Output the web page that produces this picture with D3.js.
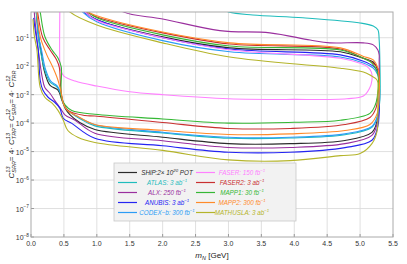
<!DOCTYPE html>
<html>
<head>
<meta charset="utf-8">
<script src="https://cdn.jsdelivr.net/npm/d3@7"></script>
<style>
body { margin: 0; background: #fff; }
svg { display: block; font-family: "Liberation Sans", Arial, sans-serif; }
</style>
</head>
<body>
<div id="chart"></div>
<script>
const WIDTH = 407;
const HEIGHT = 264;
const margin = {top: 12, right: 14, bottom: 27, left: 31};
const NB = "\u00a0";

// experiments, in legend order
const names = ["SHiP", "ATLAS", "ALX", "ANUBIS", "CODEX-b", "FASER", "FASER2", "MAPP1", "MAPP2", "MATHUSLA"];
const colors = ["#2b2b2b", "#1fbcbc", "#9a2f9e", "#2424f2", "#2b9cf5", "#ff80ff", "#c93030", "#35b835", "#ff8a2a", "#b4b42a"];
const legendLabels = [
  [{t: "SHiP:2× 10", sup: "20"}, {t: NB + "POT"}],
  [{t: "ATLAS: 3 ab", sup: "−1"}],
  [{t: "ALX: 250 fb", sup: "−1"}],
  [{t: "ANUBIS: 3 ab", sup: "−1"}],
  [{t: "CODEX−b: 300 fb", sup: "−1"}],
  [{t: "FASER: 150 fb", sup: "−1"}],
  [{t: "FASER2: 3 ab", sup: "−1"}],
  [{t: "MAPP1: 30 fb", sup: "−1"}],
  [{t: "MAPP2: 300 fb", sup: "−1"}],
  [{t: "MATHUSLA: 3 ab", sup: "−1"}]
];
const xTicks = [0, 0.5, 1, 1.5, 2, 2.5, 3, 3.5, 4, 4.5, 5, 5.5];
const yTicks = [1e-1, 1e-2, 1e-3, 1e-4, 1e-5, 1e-6, 1e-7, 1e-8];
const yExp = ["−1", "−2", "−3", "−4", "−5", "−6", "−7", "−8"];

// sensitivity contours [m_N (GeV), C], traced lower edge -> right edge -> upper edge
const ship = [[0.07,1.5],[0.08,0.81],[0.12,0.10],[0.15,3.7e-2],[0.20,7.2e-3],[0.29,2.1e-3],[0.41,1.45e-3],[0.47,6.3e-4],[0.52,3.3e-4],[0.59,2.0e-4],[0.74,1.05e-4],[0.97,6.0e-5],[2.0,3.2e-5],[3.0,1.9e-5],[3.94,1.9e-5],[4.77,2.45e-5],[5.18,4.7e-5],[5.26,1.26e-4],[5.29,6.3e-4],[5.29,3.2e-3],[5.27,7.2e-3],[5.2,1.4e-2],[5.05,1.9e-2],[4.70,3.2e-2],[3.02,4.4e-2],[2.0,0.107],[1.0,0.43],[0.82,0.81],[0.70,2.0]];
const atlas = [[0.07,1.5],[0.08,0.81],[0.11,0.10],[0.14,3.7e-2],[0.21,7.2e-3],[0.29,2.75e-3],[0.40,1.8e-3],[0.47,8.1e-4],[0.50,4.5e-4],[0.56,2.8e-4],[0.75,1.4e-4],[0.97,8.0e-5],[2.0,4.5e-5],[3.0,2.95e-5],[3.94,3.0e-5],[4.77,3.9e-5],[5.18,7.1e-5],[5.26,1.6e-4],[5.30,6.3e-4],[5.30,1.66e-2],[5.29,8.3e-2],[5.27,0.19],[5.2,0.257],[5.0,0.33],[4.13,0.5],[3.37,0.63],[3.0,0.81],[2.7,1.6]];
const alx = [[0.05,1.5],[0.05,0.81],[0.08,0.15],[0.11,3.7e-2],[0.17,4.1e-3],[0.21,1.8e-3],[0.29,1.1e-3],[0.36,6.3e-4],[0.44,3.5e-4],[0.52,1.9e-4],[0.67,1.26e-4],[0.97,4.4e-5],[2.0,2.4e-5],[3.0,1.4e-5],[3.94,1.4e-5],[4.77,1.9e-5],[5.18,3.7e-5],[5.26,1.0e-4],[5.29,3.2e-4],[5.29,1.66e-2],[5.29,2.5e-2],[5.27,3.7e-2],[5.2,5.6e-2],[5.05,6.6e-2],[4.54,6.6e-2],[4.24,8.3e-2],[3.63,0.148],[2.87,0.178],[2.0,0.457],[1.40,0.81],[1.2,2.0]];
const anubis = [[0.04,0.5],[0.07,0.15],[0.11,3.7e-2],[0.14,3.2e-3],[0.18,1.45e-3],[0.26,8.1e-4],[0.36,5.4e-4],[0.44,3.3e-4],[0.49,1.48e-4],[0.62,9.8e-5],[0.97,2.95e-5],[2.0,1.6e-5],[3.0,9.5e-6],[3.94,9.5e-6],[4.77,1.38e-5],[5.18,2.5e-5],[5.27,7.9e-5],[5.29,2.5e-4],[5.29,2.5e-3],[5.27,6.3e-3],[5.2,1.0e-2],[5.05,1.5e-2],[4.70,2.5e-2],[3.02,4.0e-2],[2.0,0.1],[1.0,0.43],[0.80,0.81],[0.68,2.0]];
const codexb = [[0.08,1.5],[0.09,0.81],[0.12,0.10],[0.16,3.7e-2],[0.22,7.9e-3],[0.30,3.0e-3],[0.40,2.0e-3],[0.46,1.0e-3],[0.49,5.0e-4],[0.55,3.0e-4],[0.75,1.5e-4],[0.97,8.7e-5],[2.0,4.8e-5],[3.0,3.2e-5],[3.94,3.2e-5],[4.77,4.2e-5],[5.18,7.6e-5],[5.26,1.7e-4],[5.29,6.3e-4],[5.29,3.0e-3],[5.27,4.9e-3],[5.2,8.5e-3],[5.05,1.29e-2],[4.70,2.1e-2],[3.02,3.2e-2],[2.0,7.9e-2],[1.0,0.363],[0.78,0.81],[0.66,2.0]];
const faser = [[0.44,2.0],[0.44,1.0e-2],[0.45,7.2e-3],[0.50,4.5e-3],[0.67,3.0e-3],[1.0,2.0e-3],[1.5,1.26e-3],[2.0,1.0e-3],[3.0,7.2e-4],[4.0,6.8e-4],[4.8,7.2e-4],[5.05,8.9e-4],[5.14,1.6e-3],[5.18,3.2e-3],[5.17,6.3e-3],[5.1,1.0e-2],[5.0,1.26e-2],[4.7,1.9e-2],[3.0,3.8e-2],[2.0,0.1],[1.0,0.4],[0.82,0.81],[0.70,2.0]];
const faser2 = [[0.09,1.5],[0.10,0.81],[0.18,0.10],[0.29,3.7e-2],[0.39,1.66e-2],[0.43,9.0e-3],[0.45,2.0e-3],[0.48,6.3e-4],[0.56,2.8e-4],[0.82,1.86e-4],[0.97,1.78e-4],[2.0,1.05e-4],[3.0,6.5e-5],[3.94,6.5e-5],[4.77,8.9e-5],[5.15,1.58e-4],[5.24,3.3e-4],[5.27,9.5e-4],[5.29,3.2e-3],[5.27,8.5e-3],[5.18,1.38e-2],[5.05,1.9e-2],[4.70,4.0e-2],[3.02,6.0e-2],[2.0,0.148],[1.0,0.537],[0.85,0.81],[0.72,2.0]];
const mapp1 = [[0.12,1.5],[0.14,0.81],[0.21,0.11],[0.32,3.7e-2],[0.41,1.95e-2],[0.46,9.3e-3],[0.46,8.1e-4],[0.52,4.3e-4],[0.62,2.8e-4],[0.97,2.04e-4],[2.0,1.4e-4],[3.0,1.0e-4],[4.0,1.07e-4],[4.70,1.26e-4],[5.15,2.2e-4],[5.23,4.3e-4],[5.26,8.1e-4],[5.28,3.2e-3],[5.26,6.3e-3],[5.18,1.29e-2],[5.05,1.9e-2],[4.70,3.7e-2],[3.02,5.1e-2],[2.0,0.126],[1.0,0.5],[0.87,0.81],[0.74,2.0]];
const mapp2 = [[0.08,1.5],[0.09,0.81],[0.14,0.11],[0.24,2.5e-2],[0.33,9.3e-3],[0.41,3.2e-3],[0.46,1.12e-3],[0.49,5.0e-4],[0.55,2.8e-4],[0.70,1.78e-4],[0.97,8.9e-5],[2.0,5.6e-5],[3.0,4.0e-5],[3.94,4.2e-5],[4.77,5.5e-5],[5.15,8.9e-5],[5.26,2.2e-4],[5.29,1.0e-3],[5.29,4.0e-3],[5.27,8.5e-3],[5.2,1.66e-2],[5.05,2.2e-2],[4.70,4.4e-2],[3.02,6.6e-2],[2.0,0.158],[1.0,0.59],[0.87,0.81],[0.75,2.0]];
const mathusla = [[0.03,0.45],[0.05,0.12],[0.09,3.7e-2],[0.14,1.8e-3],[0.21,8.1e-4],[0.32,5.0e-4],[0.41,2.8e-4],[0.49,1.26e-4],[0.56,5.5e-5],[0.71,3.2e-5],[0.97,2.1e-5],[2.0,1.1e-5],[3.0,5.1e-6],[3.94,4.8e-6],[4.70,7.2e-6],[5.0,8.5e-6],[5.18,1.9e-5],[5.26,5.5e-5],[5.27,2.2e-4],[5.27,9.5e-4],[5.26,3.2e-3],[5.15,4.9e-3],[5.05,6.2e-3],[4.70,8.5e-3],[3.02,2.1e-2],[2.0,6.6e-2],[1.0,0.28],[0.59,0.81],[0.5,1.6]];

const contours = [ship, atlas, alx, anubis, codexb, faser, faser2, mapp1, mapp2, mathusla];

// writes a label made of pieces with optional super/subscripts
function richText(sel, parts, x, y, size, anchor, color) {
    let g = sel.append("g");
    let cx = 0;
    parts.forEach(p => {
        let style = p.it ? "italic" : "normal";
        let w = 0;
        if (p.t) {
            let t = g.append("text").attr("x", cx).attr("y", 0)
                .attr("font-size", size).attr("font-style", style)
                .attr("fill", color).text(p.t);
            w = t.node().getComputedTextLength();
        }
        let w2 = 0;
        if (p.sup) {
            let s = g.append("text").attr("x", cx + w).attr("y", -size * 0.45)
                .attr("font-size", size * 0.68).attr("font-style", style)
                .attr("fill", color).text(p.sup);
            w2 = Math.max(w2, s.node().getComputedTextLength());
        }
        if (p.sub) {
            let s = g.append("text").attr("x", cx + w).attr("y", size * 0.3)
                .attr("font-size", size * 0.68).attr("font-style", style)
                .attr("fill", color).text(p.sub);
            w2 = Math.max(w2, s.node().getComputedTextLength());
        }
        cx += w + w2;
    });
    let shift = anchor === "middle" ? -cx / 2 : anchor === "end" ? -cx : 0;
    g.attr("transform", `translate(${x + shift},${y})`);
    return g;
}

const svg = d3.select("#chart").append("svg")
    .attr("width", WIDTH)
    .attr("height", HEIGHT);

const x = d3.scaleLinear().domain([0, 5.5]).range([margin.left, WIDTH - margin.right]);
const y = d3.scaleLog().domain([1e-8, 0.8]).range([HEIGHT - margin.bottom, margin.top]);

// grid
svg.append("g").selectAll("line").data(xTicks.slice(1, -1)).enter().append("line")
    .attr("x1", d => x(d)).attr("x2", d => x(d))
    .attr("y1", margin.top).attr("y2", HEIGHT - margin.bottom)
    .attr("stroke", "#dcdcdc").attr("stroke-width", 0.9);
svg.append("g").selectAll("line").data(yTicks.slice(0, -1)).enter().append("line")
    .attr("x1", margin.left).attr("x2", WIDTH - margin.right)
    .attr("y1", d => y(d)).attr("y2", d => y(d))
    .attr("stroke", "#dcdcdc").attr("stroke-width", 0.9);

// ticks (inside)
svg.append("g").selectAll("line").data(xTicks).enter().append("line")
    .attr("x1", d => x(d)).attr("x2", d => x(d))
    .attr("y1", HEIGHT - margin.bottom).attr("y2", HEIGHT - margin.bottom - 3)
    .attr("stroke", "#999");
svg.append("g").selectAll("line").data(yTicks).enter().append("line")
    .attr("x1", margin.left).attr("x2", margin.left + 3)
    .attr("y1", d => y(d)).attr("y2", d => y(d))
    .attr("stroke", "#999");

// curves
svg.append("clipPath").attr("id", "plotclip").append("rect")
    .attr("x", margin.left).attr("y", margin.top)
    .attr("width", WIDTH - margin.left - margin.right)
    .attr("height", HEIGHT - margin.top - margin.bottom);

const line = d3.line()
    .x(d => x(d[0]))
    .y(d => y(d[1]))
    .curve(d3.curveCatmullRom.alpha(0.5));

svg.append("g").attr("clip-path", "url(#plotclip)")
    .selectAll("path").data(contours).enter().append("path")
    .attr("d", line)
    .attr("fill", "none")
    .attr("stroke", (d, i) => colors[i])
    .attr("stroke-width", 1.1);

// frame
svg.append("rect")
    .attr("x", margin.left).attr("y", margin.top)
    .attr("width", WIDTH - margin.left - margin.right)
    .attr("height", HEIGHT - margin.top - margin.bottom)
    .attr("fill", "none").attr("stroke", "#aaa").attr("stroke-width", 1);

// tick labels
xTicks.forEach(t => {
    svg.append("text").attr("x", x(t)).attr("y", HEIGHT - margin.bottom + 9)
        .attr("text-anchor", "middle").attr("font-size", 7).attr("fill", "#333")
        .text(t.toFixed(1));
});
yTicks.forEach((t, i) => {
    richText(svg, [{t: "10", sup: yExp[i]}], margin.left - 2, y(t) + 3, 7, "end", "#333");
});

// axis titles
richText(svg, [{t: "m", it: true, sub: "N"}, {t: NB + "[GeV]"}], x(2.75), HEIGHT - 6, 8, "middle", "#222");
let ylab = svg.append("g").attr("transform", `translate(14,${(margin.top + HEIGHT - margin.bottom) / 2}) rotate(-90)`);
richText(ylab, [
    {t: "C", it: true, sup: "13", sub: "SRR"}, {t: "=" + NB + "4·" + NB},
    {t: "C", it: true, sup: "13", sub: "TRR"}, {t: "=" + NB},
    {t: "C", it: true, sup: "12", sub: "SRR"}, {t: "=" + NB + "4·" + NB},
    {t: "C", it: true, sup: "12", sub: "TRR"}
], 0, 0, 8, "middle", "#222");

// legend
let leg = svg.append("g");
leg.append("rect").attr("x", 114).attr("y", 163).attr("width", 182).attr("height", 58)
    .attr("fill", "#f2f2f2").attr("stroke", "#c8c8c8").attr("stroke-width", 0.8);
names.forEach((n, i) => {
    let col = Math.floor(i / 5), row = i % 5;
    let lx = col === 0 ? 118 : 196;
    let ty = 172.5 + row * 10;
    leg.append("line").attr("x1", lx).attr("x2", lx + 19)
        .attr("y1", ty).attr("y2", ty)
        .attr("stroke", colors[i]).attr("stroke-width", 1.2);
    let parts = legendLabels[i].map(p => Object.assign({it: true}, p));
    richText(leg, parts, col === 0 ? 167 : 242, ty + 2.3, 6.3, "middle", colors[i]);
});
</script>
</body>
</html>
